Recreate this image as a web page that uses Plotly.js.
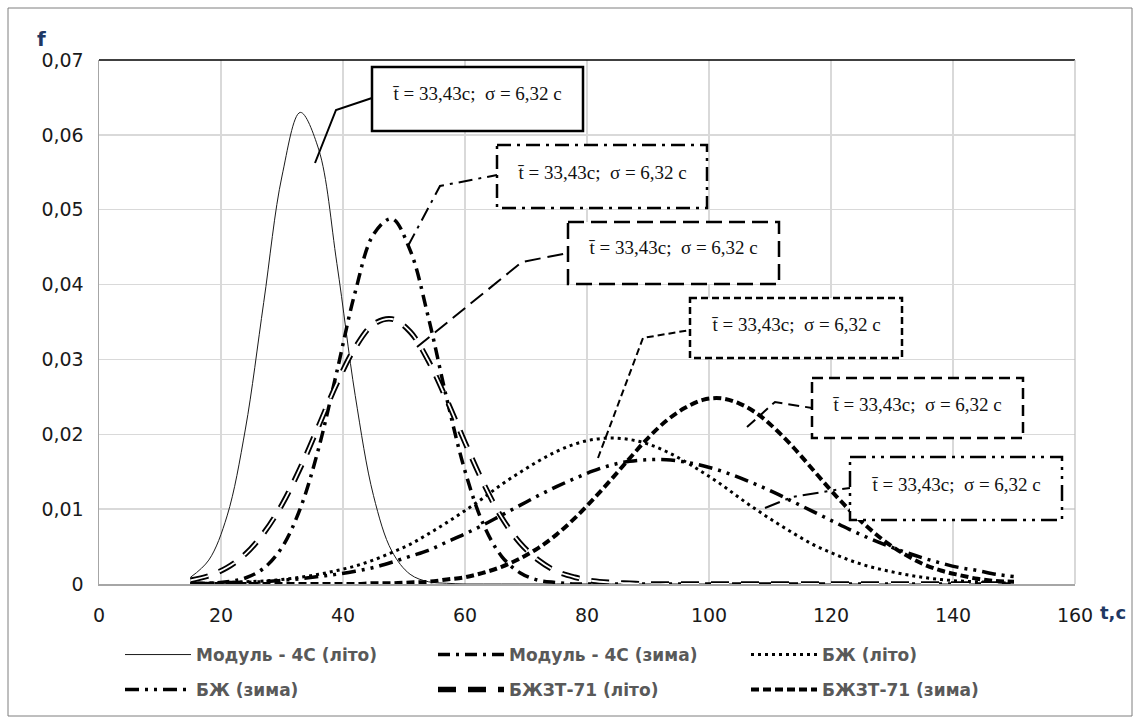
<!DOCTYPE html>
<html>
<head>
<meta charset="utf-8">
<script src="https://cdn.plot.ly/plotly-3.0.1.min.js"></script>
<style>
  html, body { margin:0; padding:0; background:#fff; }
  #chart { width:1140px; height:724px; }
</style>
</head>
<body>
<div id="chart"></div>
<script>
// ---- data ----
const tVals = [15,18,21,24,27,30,33,36,39,42,45,48,51,54,57,60,63,66,69,72,75,78,81,84,87,90,93,96,99,102,105,108,111,114,117,120,123,126,129,132,135,138,141,144,147,150];

const modulLito = [0.0009,0.0032,0.0091,0.0207,0.0376,0.0545,0.0630,0.0581,0.0428,0.0252,0.0118,0.0044,0.0013,0.0003,0.0001,
  0,0,0,0,0,0,0,0,0,0,0,0,0,0,0,0,0,0,0,0,0,0,0,0,0,0,0,0,0,0,0];

const modulZyma = [0.0000,0.0001,0.0003,0.0008,0.0021,0.0049,0.0101,0.0181,0.0284,0.0390,0.0467,0.0488,0.0446,0.0356,0.0248,0.0151,0.0080,0.0037,0.0015,0.0005,0.0002,0,
  0,0,0,0,0,0,0,0,0,0,0,0,0,0,0,0,0,0,0,0,0,0,0,0];

const bzhLito = [0.0001,0.0001,0.0002,0.0003,0.0004,0.0006,0.0009,0.0013,0.0018,0.0024,0.0032,0.0042,0.0053,0.0067,0.0082,0.0098,0.0115,0.0133,0.0149,0.0164,0.0177,0.0187,0.0193,0.0195,0.0193,0.0187,0.0177,0.0164,0.0149,0.0133,0.0115,0.0098,0.0082,0.0067,0.0053,0.0042,0.0032,0.0024,0.0018,0.0013,0.0009,0.0006,0.0004,0.0003,0.0002,0.0001];

const bzhZyma = [0.0001,0.0001,0.0002,0.0002,0.0003,0.0005,0.0007,0.0010,0.0013,0.0017,0.0022,0.0029,0.0037,0.0045,0.0056,0.0067,0.0079,0.0092,0.0105,0.0118,0.0130,0.0141,0.0151,0.0159,0.0164,0.0166,0.0166,0.0163,0.0158,0.0151,0.0142,0.0132,0.0121,0.0109,0.0097,0.0085,0.0073,0.0062,0.0052,0.0043,0.0035,0.0028,0.0022,0.0018,0.0013,0.0010];

const bzhztLito = [0.0005,0.0011,0.0022,0.0040,0.0068,0.0106,0.0155,0.0211,0.0268,0.0316,0.0347,0.0354,0.0337,0.0298,0.0246,0.0189,0.0135,0.0089,0.0055,0.0032,0.0017,0.0009,0.0004,0.0002,0.0001,
  0,0,0,0,0,0,0,0,0,0,0,0,0,0,0,0,0,0,0,0,0];

const bzhztZyma = [0,0,0,0,0,0,0,0,0,0,
  0.0001,0.0001,0.0002,0.0003,0.0006,0.0009,0.0015,0.0023,0.0034,0.0048,0.0066,0.0088,0.0113,0.0140,0.0168,0.0195,0.0218,0.0235,0.0246,0.0248,0.0241,0.0227,0.0206,0.0181,0.0153,0.0125,0.0099,0.0076,0.0056,0.0040,0.0027,0.0018,0.0012,0.0007,0.0004,0.0003];

const seriesNames = ['Модуль - 4С (літо)','Модуль - 4С (зима)','БЖ (літо)','БЖ (зима)','БЖЗТ-71 (літо)','БЖЗТ-71 (зима)'];

const xTickVals = [0,20,40,60,80,100,120,140,160];
const yTickVals = [0,0.01,0.02,0.03,0.04,0.05,0.06,0.07];
const yTickText = ['0','0,01','0,02','0,03','0,04','0,05','0,06','0,07'];

const calloutText = 't\u0304 = 33,43c;\u00a0 σ = 6,32\u00a0c';
const xTitle = 't,c';
const yTitle = 'f';

// ---- geometry helpers (plot area in pixels) ----
const W = 1140, H = 724;
const L = 99, R = 1075, T = 60, B = 584;
const XMAX = 160, YMAX = 0.07;
const dx = px => (px - L) / (R - L) * XMAX;
const dy = py => (B - py) / (B - T) * YMAX;
const pX = px => (px - L) / (R - L);
const pY = py => (B - py) / (B - T);

const sp = {shape:'spline', smoothing:1};

const traces = [
  {x:tVals, y:modulLito, name:seriesNames[0], mode:'lines', legend:'legend',
   line:Object.assign({color:'#1a1a1a', width:1}, sp)},
  {x:tVals, y:modulZyma, name:seriesNames[1], mode:'lines', legend:'legend',
   line:Object.assign({color:'#000', width:3.5, dash:'12px,6px,3px,6px'}, sp)},
  {x:tVals, y:bzhLito, name:seriesNames[2], mode:'lines', legend:'legend',
   line:Object.assign({color:'#000', width:3, dash:'3px,4px'}, sp)},
  {x:tVals, y:bzhZyma, name:seriesNames[3], mode:'lines', legend:'legend2',
   line:Object.assign({color:'#000', width:3.5, dash:'14px,6px,3px,6px,3px,6px'}, sp)},
  {x:tVals, y:bzhztLito, name:seriesNames[4], mode:'lines', legend:'legend2',
   line:Object.assign({color:'#000', width:5.5, dash:'18px,12px'}, sp)},
  {x:tVals, y:bzhztLito, name:seriesNames[4], mode:'lines', showlegend:false, hoverinfo:'skip',
   line:Object.assign({color:'#fff', width:1.8, dash:'18px,12px'}, sp)},
  {x:tVals, y:bzhztZyma, name:seriesNames[5], mode:'lines', legend:'legend2',
   line:Object.assign({color:'#000', width:4, dash:'8px,4px'}, sp)}
];

// callout boxes: [x0,y0,x1,y1] in px, text centre y, dash, leader path points
const callouts = [
  {box:[372,67,583,131], ty:93, dash:'solid', lead:[[315,163],[336,110],[372,98]]},
  {box:[497,145,707,208], ty:172, dash:'14px,6px,3px,6px', lead:[[408,246],[440,186],[497,175]]},
  {box:[568,222,779,284], ty:247, dash:'16px,7px', lead:[[417,347],[522,262],[568,253]]},
  {box:[690,298,902,358], ty:324, dash:'7px,4px', lead:[[598,458],[643,338],[690,330]]},
  {box:[812,378,1023,438], ty:404, dash:'11px,6px', lead:[[747,427],[775,402],[812,408]]},
  {box:[850,457,1062,520], ty:484, dash:'16px,6px,3px,6px,3px,6px', lead:[[765,508],[792,497],[835,490],[850,488]]}
];

const shapes = [];
const annotations = [];
callouts.forEach(c => {
  const [x0,y0,x1,y1] = c.box;
  const path = 'M ' + c.lead.map(p => dx(p[0]) + ',' + dy(p[1])).join(' L ');
  shapes.push({type:'path', xref:'x', yref:'y', path:path, layer:'above',
    line:{color:'#000', width:2, dash:c.dash}});
  shapes.push({type:'rect', xref:'x', yref:'y', x0:dx(x0), x1:dx(x1), y0:dy(y0), y1:dy(y1),
    layer:'above', fillcolor:'#fff', line:{color:'#000', width:2.5, dash:c.dash}});
  annotations.push({xref:'x', yref:'y', x:dx((x0+x1)/2), y:dy(c.ty), text:calloutText, showarrow:false,
    font:{family:'Liberation Serif, Times New Roman, serif', size:19, color:'#111'}});
});

// outer chart frame
shapes.push({type:'rect', xref:'paper', yref:'paper', x0:pX(8), x1:pX(1132), y0:pY(716), y1:pY(8),
  line:{color:'#7f7f7f', width:1}, layer:'below'});
// plot-area top (dark) and right (light) borders
shapes.push({type:'line', xref:'paper', yref:'paper', x0:0, x1:1, y0:1, y1:1, line:{color:'#000', width:1.5}, layer:'above'});
shapes.push({type:'line', xref:'paper', yref:'paper', x0:1, x1:1, y0:0, y1:1, line:{color:'#bfbfbf', width:1.2}, layer:'above'});

const sansWide = 'DejaVu Sans, Verdana, sans-serif';

annotations.push({xref:'paper', yref:'paper', x:pX(35), y:pY(39), xanchor:'left', yanchor:'middle',
  text:'<b>'+yTitle+'</b>', showarrow:false, font:{family:sansWide, size:20, color:'#1f3864'}});
annotations.push({xref:'paper', yref:'paper', x:pX(1098), y:pY(612), xanchor:'left', yanchor:'middle',
  text:'<b>'+xTitle+'</b>', showarrow:false, font:{family:sansWide, size:18, color:'#1f3864'}});

const legendFont = {family:sansWide, size:17, color:'#595959', weight:'bold'};
const legendCommon = {orientation:'h', xanchor:'left', yanchor:'middle', bgcolor:'rgba(0,0,0,0)',
  font:legendFont, itemwidth:66, entrywidth:232, entrywidthmode:'pixels', itemclick:false, itemdoubleclick:false};

const layout = {
  width:W, height:H,
  margin:{l:L, r:W-R, t:T, b:H-B, pad:0},
  paper_bgcolor:'#fff', plot_bgcolor:'#fff',
  font:{family:sansWide, size:19, color:'#1a1a1a'},
  separators:',.',
  xaxis:{range:[0,XMAX], tickvals:xTickVals, ticktext:xTickVals.map(String), showgrid:true,
    gridcolor:'#d9d9d9', gridwidth:1.5, zeroline:false, showline:true, linecolor:'#a6a6a6', linewidth:1.5,
    ticks:'', ticklen:0, ticklabelstandoff:14, tickfont:{family:sansWide, size:19}, fixedrange:true},
  yaxis:{range:[0,YMAX], tickvals:yTickVals, ticktext:yTickText, showgrid:true,
    gridcolor:'#d9d9d9', gridwidth:1.5, zeroline:false, showline:true, linecolor:'#a6a6a6', linewidth:1.5,
    ticks:'', ticklen:0, ticklabelstandoff:10, tickfont:{family:sansWide, size:19}, fixedrange:true},
  legend:Object.assign({x:pX(120), y:pY(655)}, legendCommon),
  legend2:Object.assign({x:pX(120), y:pY(690)}, legendCommon),
  shapes:shapes,
  annotations:annotations,
  showlegend:true
};

Plotly.newPlot('chart', traces, layout, {displayModeBar:false, staticPlot:true});
</script>
</body>
</html>
